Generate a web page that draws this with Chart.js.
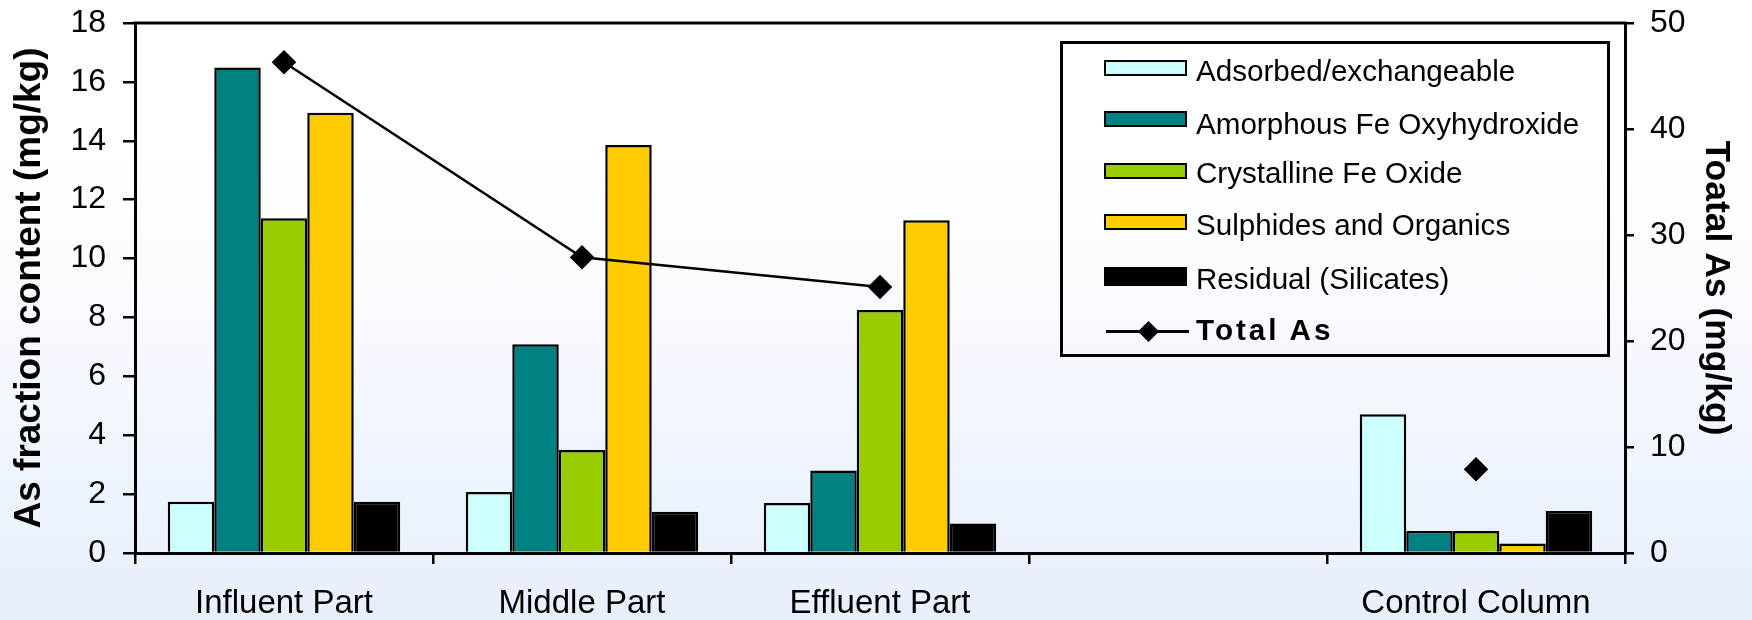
<!DOCTYPE html>
<html>
<head>
<meta charset="utf-8">
<script src="https://cdn.jsdelivr.net/npm/chart.js@4.4.1/dist/chart.umd.min.js"></script>
<style>
  html, body { margin: 0; padding: 0; }
  body {
    width: 1752px; height: 620px; overflow: hidden; position: relative;
    background: linear-gradient(to bottom, #FFFFFF 0%, #FFFFFF 25%, #F4F8FE 60%, #E7EFFB 100%);
    font-family: "Liberation Sans", Arial, sans-serif;
  }
  #wrap { position: absolute; left: 0; top: 0; width: 1752px; height: 620px; }
  #legend {
    position: absolute; left: 1060px; top: 41px; width: 550px; height: 316px;
    border: 3px solid #000; box-sizing: border-box;
  }
  .sw { position: absolute; box-sizing: border-box; border: 2.5px solid #000; width: 83px; }
  .lt { position: absolute; font-size: 29.6px; line-height: 34px; color: #000; white-space: nowrap; }
  .bold { font-weight: bold; letter-spacing: 3px; }
  .lline { position: absolute; height: 3px; background: #000; width: 83px; }
  .ldia { position: absolute; width: 15px; height: 15px; background: #000; transform: rotate(45deg); }
</style>
</head>
<body>
<div id="wrap"><canvas id="c" width="1752" height="620"></canvas></div>
<div id="legend"></div>
<script>
// ---- data ----
const categories = ['Influent Part', 'Middle Part', 'Effluent Part', '', 'Control Column'];
const adsorbed    = [1.74, 2.07, 1.70, null, 4.71];
const amorphous   = [16.49, 7.09, 2.80, null, 0.75];
const crystalline = [11.37, 3.50, 8.25, null, 0.75];
const sulphides   = [14.95, 13.86, 11.30, null, 0.32];
const residual    = [1.74, 1.40, 1.00, null, 1.43];
const totalAs     = [46.3, 27.9, 25.1, null, 7.9];
const seriesNames = ['Adsorbed/exchangeable', 'Amorphous Fe Oxyhydroxide', 'Crystalline Fe Oxide', 'Sulphides and Organics', 'Residual (Silicates)'];
const totalName = 'Total As';
const leftTitle = 'As fraction content (mg/kg)';
const rightTitle = 'Toatal As (mg/kg)';
const leftTicks = { min: 0, max: 18, step: 2 };
const rightTicks = { min: 0, max: 50, step: 10 };

// ---- styles ----
const colors = ['#CCFFFF', '#008080', '#99CC00', '#FFCC00', '#000000'];
const barSeries = [adsorbed, amorphous, crystalline, sulphides, residual];

const datasets = barSeries.map((vals, i) => ({
  type: 'bar',
  label: seriesNames[i],
  data: vals,
  backgroundColor: colors[i],
  borderColor: '#000',
  borderWidth: 2.5,
  borderSkipped: 'start',
  categoryPercentage: 0.78,
  barPercentage: 1.0,
  yAxisID: 'y',
  order: 2
}));
datasets.push({
  type: 'line',
  label: totalName,
  data: totalAs,
  borderColor: '#000',
  backgroundColor: '#000',
  borderWidth: 2.5,
  pointStyle: 'rectRot',
  pointRadius: 10.5,
  pointBackgroundColor: '#000',
  pointBorderColor: '#000',
  spanGaps: false,
  tension: 0,
  yAxisID: 'y2',
  order: 0
});

const topLine = {
  id: 'topLine',
  afterDraw(chart) {
    const { ctx, chartArea } = chart;
    ctx.save();
    ctx.strokeStyle = '#000';
    ctx.lineWidth = 3;
    ctx.beginPath();
    ctx.moveTo(chartArea.left - 1.5, chartArea.top);
    ctx.lineTo(chartArea.right + 1.5, chartArea.top);
    ctx.stroke();
    ctx.restore();
  }
};

const fam = '"Liberation Sans", Arial, sans-serif';
const tickFont = { family: fam, size: 32 };

new Chart(document.getElementById('c'), {
  type: 'bar',
  data: { labels: categories, datasets },
  plugins: [topLine],
  options: {
    responsive: false,
    animation: false,
    layout: { padding: { top: 23, bottom: 0, left: 0, right: 0 } },
    plugins: { legend: { display: false }, tooltip: { enabled: false } },
    scales: {
      x: {
        position: 'bottom',
        grid: { offset: true, drawOnChartArea: false, drawTicks: true, tickLength: 11, color: '#000', lineWidth: 2.5 },
        border: { display: true, color: '#000', width: 3 },
        ticks: { color: '#000', font: { family: fam, size: 33 }, padding: 20, maxRotation: 0, autoSkip: false },
        afterFit(scale) { scale.height = 67; scale.paddingLeft = 0; scale.paddingRight = 0; }
      },
      y: {
        position: 'left',
        min: leftTicks.min, max: leftTicks.max,
        ticks: { stepSize: leftTicks.step, color: '#000', font: tickFont, padding: 17 },
        grid: { drawOnChartArea: false, drawTicks: true, tickLength: 12, color: '#000', lineWidth: 2.5 },
        border: { display: true, color: '#000', width: 3 },
        title: { display: true, text: leftTitle, color: '#000', font: { family: fam, size: 37, weight: 'bold' }, padding: 8 },
        afterFit(scale) { scale.width = 135; scale.paddingTop = 0; scale.paddingBottom = 0; }
      },
      y2: {
        position: 'right',
        min: rightTicks.min, max: rightTicks.max,
        ticks: { stepSize: rightTicks.step, color: '#000', font: tickFont, padding: 16 },
        grid: { drawOnChartArea: false, drawTicks: true, tickLength: 9, color: '#000', lineWidth: 2.5 },
        border: { display: true, color: '#000', width: 3 },
        title: { display: true, text: rightTitle, color: '#000', font: { family: fam, size: 35.5, weight: 'bold' }, padding: 15 },
        afterFit(scale) { scale.width = 127; scale.paddingTop = 0; scale.paddingBottom = 0; }
      }
    }
  }
});

// ---- legend (HTML text) ----
const legend = document.getElementById('legend');
const ox = 1060 + 3, oy = 41 + 3; // inner origin (border offset)
const swatchCenters = [67.5, 119, 170.5, 222, 276.5];
const textCenters = [70.5, 124, 173.3, 225, 279];
seriesNames.forEach((name, i) => {
  const sw = document.createElement('div');
  sw.className = 'sw';
  const h = i === 4 ? 19 : 16;
  sw.style.height = h + 'px';
  sw.style.left = (1104 - ox) + 'px';
  sw.style.top = (swatchCenters[i] - h / 2 - oy) + 'px';
  sw.style.background = colors[i];
  legend.appendChild(sw);
  const t = document.createElement('div');
  t.className = 'lt';
  t.textContent = name;
  t.style.left = (1196 - ox) + 'px';
  t.style.top = (textCenters[i] - 17 - oy) + 'px';
  legend.appendChild(t);
});
const ln = document.createElement('div');
ln.className = 'lline';
ln.style.left = (1106 - ox) + 'px';
ln.style.top = (331.7 - 1.5 - oy) + 'px';
legend.appendChild(ln);
const dia = document.createElement('div');
dia.className = 'ldia';
dia.style.left = (1148 - 7.5 - ox) + 'px';
dia.style.top = (331.7 - 7.5 - oy) + 'px';
legend.appendChild(dia);
const tt = document.createElement('div');
tt.className = 'lt bold';
tt.textContent = totalName;
tt.style.left = (1196 - ox) + 'px';
tt.style.top = (330 - 17 - oy) + 'px';
legend.appendChild(tt);
</script>
</body>
</html>
